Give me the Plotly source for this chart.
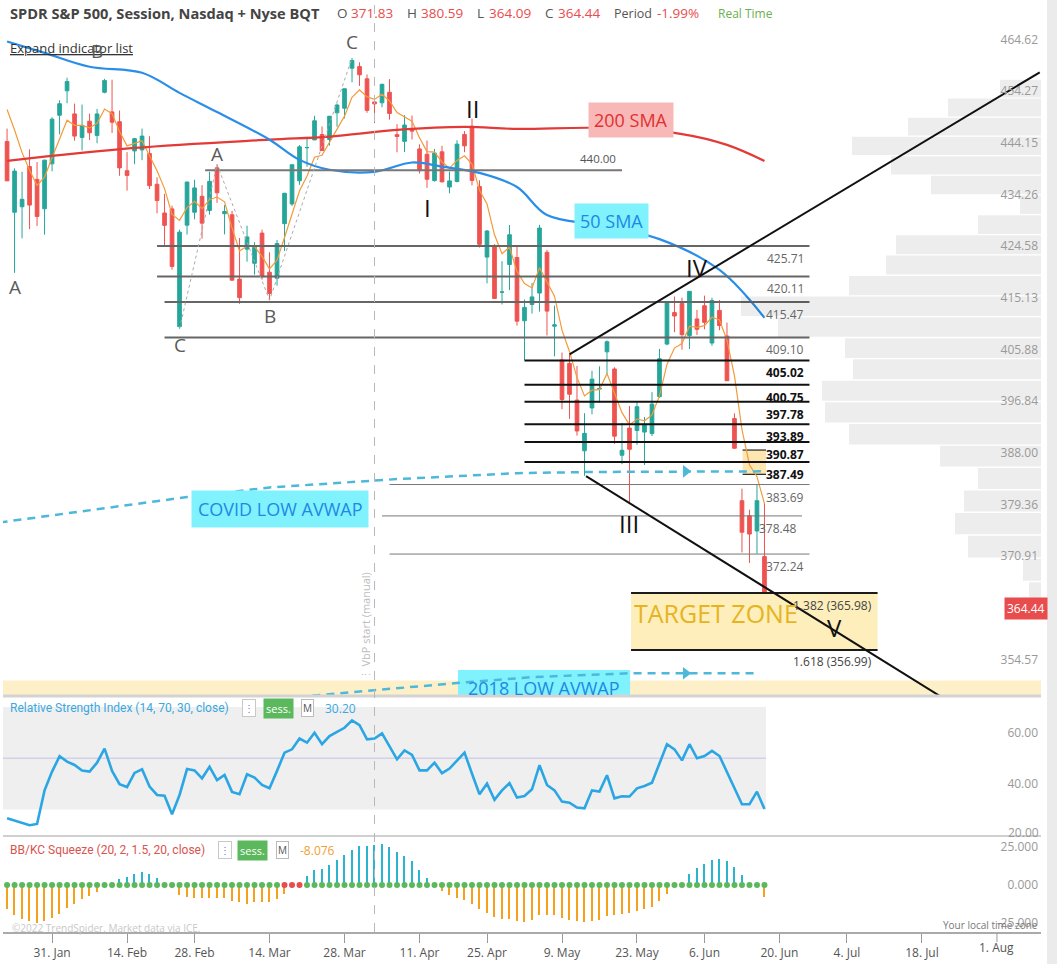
import math
import plotly.graph_objects as go

lg = math.log10

# ---------------- data ----------------
DATES = [
    "2022-01-21", "2022-01-24", "2022-01-25", "2022-01-26", "2022-01-27", "2022-01-28",
    "2022-01-31", "2022-02-01", "2022-02-02", "2022-02-03", "2022-02-04",
    "2022-02-07", "2022-02-08", "2022-02-09", "2022-02-10", "2022-02-11",
    "2022-02-14", "2022-02-15", "2022-02-16", "2022-02-17", "2022-02-18",
    "2022-02-22", "2022-02-23", "2022-02-24", "2022-02-25",
    "2022-02-28", "2022-03-01", "2022-03-02", "2022-03-03", "2022-03-04",
    "2022-03-07", "2022-03-08", "2022-03-09", "2022-03-10", "2022-03-11",
    "2022-03-14", "2022-03-15", "2022-03-16", "2022-03-17", "2022-03-18",
    "2022-03-21", "2022-03-22", "2022-03-23", "2022-03-24", "2022-03-25",
    "2022-03-28", "2022-03-29", "2022-03-30", "2022-03-31", "2022-04-01",
    "2022-04-04", "2022-04-05", "2022-04-06", "2022-04-07", "2022-04-08",
    "2022-04-11", "2022-04-12", "2022-04-13", "2022-04-14",
    "2022-04-18", "2022-04-19", "2022-04-20", "2022-04-21", "2022-04-22",
    "2022-04-25", "2022-04-26", "2022-04-27", "2022-04-28", "2022-04-29",
    "2022-05-02", "2022-05-03", "2022-05-04", "2022-05-05", "2022-05-06",
    "2022-05-09", "2022-05-10", "2022-05-11", "2022-05-12", "2022-05-13",
    "2022-05-16", "2022-05-17", "2022-05-18", "2022-05-19", "2022-05-20",
    "2022-05-23", "2022-05-24", "2022-05-25", "2022-05-26", "2022-05-27",
    "2022-05-31", "2022-06-01", "2022-06-02", "2022-06-03",
    "2022-06-06", "2022-06-07", "2022-06-08", "2022-06-09", "2022-06-10",
    "2022-06-13", "2022-06-14", "2022-06-15", "2022-06-16",
]
OPEN = [
    445.56, 432.03, 433.06, 440.72, 438.26, 432.68,
    441.24, 450.68, 455.50, 450.95, 446.35,
    449.51, 446.73, 455.22, 451.34, 449.41,
    439.92, 443.73, 443.93, 443.22, 437.33,
    431.89, 432.66, 411.02, 429.61,
    432.03, 435.04, 432.37, 440.47, 431.75,
    431.55, 419.62, 425.14, 422.52, 428.12,
    420.89, 419.77, 429.89, 433.59, 438.00,
    444.34, 445.86, 446.91, 445.94, 451.16,
    452.06, 460.02, 460.34, 457.89, 453.31,
    453.13, 455.22, 446.89, 445.59, 447.97,
    444.11, 443.08, 438.03, 443.55,
    436.81, 437.86, 446.92, 448.54, 436.91,
    423.67, 425.83, 417.24, 422.29, 423.59,
    412.07, 415.01, 417.08, 424.55, 411.10,
    405.10, 404.49, 398.07, 389.37, 396.71,
    399.98, 406.53, 403.50, 388.62, 393.25,
    392.83, 392.56, 392.31, 398.67, 407.91,
    413.55, 415.17, 409.42, 412.40,
    414.78, 408.10, 413.93, 409.34, 394.88,
    381.00, 378.50, 376.00, 371.83,
]
HIGH = [
    448.06, 440.38, 439.72, 444.04, 441.59, 442.00,
    450.28, 453.63, 458.12, 452.97, 452.78,
    450.99, 451.92, 457.88, 457.71, 451.61,
    443.50, 446.28, 448.06, 446.57, 438.66,
    435.50, 433.26, 428.76, 437.84,
    438.20, 437.17, 439.72, 441.11, 433.37,
    432.30, 427.21, 429.51, 426.43, 428.77,
    424.55, 426.84, 435.68, 441.07, 444.86,
    446.46, 450.58, 448.49, 450.50, 452.98,
    455.91, 462.07, 461.20, 458.76, 453.46,
    456.91, 457.83, 448.93, 450.69, 450.63,
    445.00, 445.75, 444.11, 444.73,
    439.75, 445.80, 447.57, 450.01, 438.08,
    428.69, 426.04, 422.92, 429.64, 425.87,
    415.92, 418.93, 429.66, 425.00, 414.80,
    406.41, 406.08, 404.04, 395.80, 403.18,
    403.97, 408.57, 403.80, 394.14, 397.03,
    397.73, 395.15, 399.45, 407.04, 415.38,
    416.46, 416.24, 417.44, 414.04,
    416.61, 416.22, 415.82, 411.74, 395.78,
    383.00, 379.50, 383.70, 380.59,
]
LOW = [
    437.95, 420.76, 427.15, 428.86, 429.45, 427.82,
    439.81, 446.94, 453.05, 445.71, 443.83,
    445.85, 445.22, 455.01, 447.20, 438.94,
    436.12, 441.17, 441.94, 436.42, 431.82,
    425.86, 421.35, 410.64, 427.86,
    430.70, 427.11, 431.57, 433.80, 427.88,
    419.36, 415.12, 422.82, 420.44, 419.53,
    415.79, 418.42, 424.80, 433.19, 437.22,
    440.68, 445.86, 443.71, 444.76, 448.43,
    450.06, 457.18, 456.47, 451.16, 449.14,
    452.26, 449.82, 443.47, 443.53, 445.94,
    439.39, 436.65, 437.84, 437.68,
    435.61, 437.68, 443.48, 437.10, 425.44,
    418.84, 416.07, 415.01, 417.60, 411.21,
    405.02, 413.36, 413.71, 409.44, 405.73,
    396.50, 394.82, 391.96, 385.15, 395.61,
    397.60, 402.58, 390.55, 387.11, 380.54,
    390.38, 386.96, 391.89, 398.45, 407.70,
    410.03, 406.93, 407.04, 409.51,
    410.55, 407.61, 410.38, 401.44, 389.75,
    372.50, 370.80, 372.30, 364.09,
]
CLOSE = [
    437.98, 439.84, 434.47, 433.38, 431.24, 441.95,
    449.91, 452.95, 457.35, 446.60, 448.70,
    447.26, 450.94, 457.54, 449.32, 440.46,
    439.02, 446.10, 446.60, 437.06, 434.23,
    429.57, 421.95, 428.30, 437.75,
    436.63, 429.98, 437.89, 435.71, 432.17,
    419.43, 416.25, 427.41, 425.48, 420.07,
    417.00, 426.17, 435.62, 441.07, 444.52,
    444.39, 449.59, 443.80, 450.49, 452.69,
    455.91, 461.55, 458.70, 451.64, 452.92,
    456.80, 451.03, 446.52, 448.77, 447.57,
    439.92, 438.29, 443.31, 437.79,
    437.97, 445.04, 444.71, 438.06, 426.04,
    428.51, 416.10, 417.27, 427.81, 412.00,
    414.48, 416.38, 429.06, 413.81, 411.34,
    398.17, 399.09, 392.75, 392.34, 401.72,
    400.09, 408.32, 391.86, 389.46, 389.63,
    396.92, 393.89, 397.37, 405.31, 415.26,
    412.93, 409.59, 417.39, 410.54,
    411.79, 415.74, 411.22, 401.44, 389.80,
    375.80, 375.50, 381.00, 364.44,
]
EMA_FAST = [
    451.8, 447.8, 443.4, 440.0, 437.1, 438.7, 442.4, 445.9, 449.7, 448.7,
    448.7, 448.2, 449.1, 451.9, 451.0, 447.5, 444.7, 445.2, 445.7, 442.8,
    439.9, 436.5, 431.6, 430.5, 432.9, 434.1, 432.7, 434.4, 434.9, 434.0,
    429.1, 424.8, 425.7, 425.6, 423.8, 421.5, 423.1, 427.3, 431.9, 436.1,
    438.9, 442.5, 442.9, 445.4, 447.8, 450.5, 454.2, 455.7, 454.3, 453.8,
    454.8, 453.5, 451.2, 450.4, 449.5, 446.3, 443.6, 443.5, 441.6, 440.4,
    441.9, 442.8, 441.2, 436.2, 433.6, 427.8, 424.3, 425.5, 421.0, 418.8,
    418.0, 421.7, 419.1, 416.5, 410.4, 406.6, 402.0, 398.8, 399.8, 399.9,
    402.7, 399.1, 395.9, 393.8, 394.8, 394.5, 395.5, 398.8, 404.3, 407.2,
    408.0, 411.1, 410.9, 411.2, 412.7, 412.2, 408.6, 402.3, 393.0, 387.0,
    385.0, 380.5,
]
RSI = [
    26.6, 25.7, 24.8, 23.9, 24.4, 37.5, 44.8, 50.8, 48.7, 47.4,
    45.2, 44.8, 48.3, 53.8, 45.1, 39.9, 38.8, 44.3, 45.7, 39.0,
    35.7, 35.4, 28.2, 35.7, 45.8, 45.3, 42.2, 46.7, 41.5, 43.5,
    36.9, 36.0, 43.8, 42.5, 39.6, 38.3, 45.1, 52.2, 53.5, 57.7,
    56.1, 60.0, 55.5, 58.7, 60.3, 61.9, 64.8, 62.9, 57.4, 57.7,
    59.7, 54.8, 49.6, 53.1, 51.3, 45.3, 45.3, 48.3, 44.2, 46.0,
    49.2, 52.2, 44.0, 36.0, 40.1, 33.8, 37.5, 40.3, 34.7, 35.3,
    37.9, 47.3, 39.6, 37.5, 33.1, 32.7, 30.8, 30.5, 37.5, 37.0,
    43.4, 34.4, 35.2, 35.1, 38.3, 39.2, 40.5, 47.9, 55.5, 53.5,
    49.2, 55.5, 50.0, 50.9, 52.9, 50.9, 44.4, 38.3, 32.1, 32.1,
    37.0, 30.2,
]
SQUEEZE = [
    -15.8, -19.3, -21.9, -23.7, -24.6, -23.7, -21.5, -18.9, -14.7, -12.1,
    -9.2, -7.0, -4.4, 0.3, 0.5, 3.7, 5.0, 7.2, 8.8, 7.0,
    4.8, 0.5, -2.2, -6.6, -7.7, -8.3, -8.3, -8.3, -8.3, -8.8,
    -10.3, -11.0, -12.1, -11.0, -11.0, -11.4, -9.2, -6.1, 0.3, 0.5,
    5.9, 9.9, 10.5, 13.2, 16.4, 19.7, 23.0, 25.2, 25.7, 26.3,
    26.5, 24.6, 21.3, 19.1, 15.8, 9.9, 4.8, 0.5, -3.7, -6.6,
    -8.8, -9.9, -12.1, -16.0, -18.2, -20.8, -21.9, -22.4, -23.7, -24.1,
    -23.0, -19.7, -19.3, -19.3, -21.5, -23.0, -23.7, -24.1, -23.7, -23.0,
    -20.4, -19.7, -19.1, -18.0, -17.1, -15.8, -14.3, -10.5, -5.9, -1.5,
    0.3, 7.0, 11.0, 13.6, 16.4, 17.1, 15.8, 11.8, 6.6, 0.3,
    0.3, -8.076,
]
SQUEEZE_ON_DATES = ["2022-03-16", "2022-03-17", "2022-03-18"]

SMA50_DATES = ["2022-01-21", "2022-01-28", "2022-02-07", "2022-02-16", "2022-02-24", "2022-03-03",
               "2022-03-14", "2022-03-18", "2022-03-24", "2022-04-01", "2022-04-08", "2022-04-14",
               "2022-04-22", "2022-04-29", "2022-05-05", "2022-05-16", "2022-05-26", "2022-06-08",
               "2022-06-16"]
SMA50 = [465.4, 463.1, 460.3, 459.1, 455.1, 451.3, 445.9, 442.0, 440.1, 439.7, 441.5, 440.7,
         439.5, 436.8, 431.5, 429.6, 427.0, 421.3, 412.6]
SMA200_DATES = ["2022-01-21", "2022-02-15", "2022-03-14", "2022-03-24", "2022-04-06", "2022-04-20",
                "2022-04-29", "2022-05-16", "2022-06-01", "2022-06-09", "2022-06-16"]
SMA200 = [441.8, 444.3, 445.9, 446.5, 447.8, 448.4, 448.0, 448.2, 447.0, 444.9, 441.8]

COVID_AVWAP_DATES = ["2022-01-20", "2022-02-08", "2022-02-25", "2022-03-14", "2022-03-25", "2022-04-01",
                     "2022-04-06", "2022-04-19", "2022-04-29", "2022-05-13", "2022-06-16"]
COVID_AVWAP = [377.4, 379.6, 381.6, 383.2, 384.0, 384.4, 384.6, 385.1, 385.6, 385.8, 385.9]
AVWAP2018_DATES = ["2022-03-16", "2022-03-23", "2022-04-01", "2022-04-19", "2022-05-03", "2022-05-20", "2022-06-15"]
AVWAP2018 = [349.6, 350.1, 350.9, 351.9, 352.8, 353.4, 353.4]

# volume-by-price (bins from 364.08, width 3.75), bottom -> top, relative volume
VP_BIN_LOW = [364.08, 367.83, 371.58, 375.33, 379.08, 382.83, 386.58, 390.33, 394.08, 397.83,
              401.58, 405.33, 409.08, 412.83, 416.58, 420.33, 424.08, 427.83, 431.58, 435.33,
              439.08, 442.83, 446.58, 450.33, 454.08]
VP_BIN_SIZE = 3.75
VP_VOLUME = [12, 18, 73, 86, 77, 63, 101, 192, 216, 219, 188, 196, 263, 300, 192, 155, 145,
             63, 21, 110, 150, 189, 133, 93, 41]

LEVEL_440 = 440.00
LEVELS_GREY = [425.71, 420.11, 415.47, 409.10]
LEVELS_GREY_START = ["2022-02-18", "2022-02-18", "2022-02-22", "2022-02-22"]
LEVELS_BLACK = [405.02, 400.75, 397.78, 393.89, 390.87, 387.49]
LEVELS_BLACK_START = "2022-05-02"
LEVELS_THIN = [383.69, 378.48, 372.24]
LEVELS_THIN_START = ["2022-04-05", "2022-04-04", "2022-04-05"]
LEVELS_THIN_END = ["2022-06-27", "2022-06-24", "2022-06-27"]
LEVEL_END = "2022-06-27"

FIB_1382 = 365.98
FIB_1618 = 356.99
GAP_BOX = (385.4, 389.5)
BAND_LOW = (349.9, 352.3)

PRICE_TICKS = [464.62, 454.27, 444.15, 434.26, 424.58, 415.13, 405.88, 396.84, 388.00, 379.36, 370.91, 354.57]
LAST_PRICE = 364.44

X_TICKS = ["2022-01-31", "2022-02-14", "2022-02-28", "2022-03-14", "2022-03-28", "2022-04-11", "2022-04-25",
           "2022-05-09", "2022-05-23", "2022-06-06", "2022-06-20", "2022-07-04", "2022-07-18"]
X_TICK_TEXT = ["31. Jan", "14. Feb", "28. Feb", "14. Mar", "28. Mar", "11. Apr", "25. Apr",
               "9. May", "23. May", "6. Jun", "20. Jun", "4. Jul", "18. Jul"]
X_LAST_TICK, X_LAST_TICK_TEXT = "2022-08-01", "1. Aug"
HOLIDAYS = ["2022-02-21", "2022-04-15", "2022-05-30"]
JUNETEENTH_BREAK = "2022-06-20 00:00:01"
X_START = "2022-01-20 11:00"
X_END = "2022-08-08 21:00"

UPPER_TREND_X = ["2022-05-10", "2022-08-08 17:00"]
UPPER_TREND_Y = [406.08, 459.2]
LOWER_TREND_X = ["2022-05-12 05:00", "2022-07-25 02:00"]
LOWER_TREND_Y = [385.1, 348.0]
ABC_X = ["2022-02-24", "2022-03-03", "2022-03-14", "2022-03-29"]
ABC_Y = [410.64, 441.11, 415.79, 462.07]

# ---------------- figure ----------------
W, H = 1057, 964
ML, MR, MT, MB = 3, 16, 0, 32
PW, PH = W - ML - MR, H - MT - MB


def PX(x):
    return (x - ML) / PW


def PY(y):
    return (MT + PH - y) / PH


fig = go.Figure()

# volume profile (overlay axis, px-like volume units, 0 at right edge)
vx, vy = [], []
for lo, vol in zip(VP_BIN_LOW, VP_VOLUME):
    y0, y1 = lo + 0.12, lo + VP_BIN_SIZE - 0.12
    vx += [0, vol, vol, 0, 0, None]
    vy += [y0, y0, y1, y1, y0, None]
fig.add_trace(go.Scatter(x=vx, y=vy, xaxis="x2", yaxis="y", mode="lines", fill="toself",
                         fillcolor="rgba(0,0,0,0.07)", line=dict(width=0), hoverinfo="skip"))

# bottom yellow band
fig.add_trace(go.Scatter(x=[X_START, X_END, X_END, X_START, X_START],
                         y=[BAND_LOW[0], BAND_LOW[0], BAND_LOW[1], BAND_LOW[1], BAND_LOW[0]],
                         mode="lines", fill="toself", fillcolor="#fdf0c8", line=dict(width=0), hoverinfo="skip"))

# target zone
TZ_X0, TZ_X1 = "2022-05-20 05:00", "2022-07-08 02:00"
fig.add_trace(go.Scatter(x=[TZ_X0, TZ_X1, TZ_X1, TZ_X0, TZ_X0],
                         y=[FIB_1618, FIB_1618, FIB_1382, FIB_1382, FIB_1618],
                         mode="lines", fill="toself", fillcolor="#fdeebb", line=dict(width=0), hoverinfo="skip"))
for p in (FIB_1382, FIB_1618):
    fig.add_trace(go.Scatter(x=[TZ_X0, TZ_X1], y=[p, p], mode="lines",
                             line=dict(color="#1a1a1a", width=2), hoverinfo="skip"))

# small gap box
GB_X0, GB_X1 = "2022-06-13 02:00", "2022-06-16 05:00"
fig.add_trace(go.Scatter(x=[GB_X0, GB_X1, GB_X1, GB_X0, GB_X0],
                         y=[GAP_BOX[0], GAP_BOX[0], GAP_BOX[1], GAP_BOX[1], GAP_BOX[0]],
                         mode="lines", fill="toself", fillcolor="#fde6b0", line=dict(width=0), hoverinfo="skip"))
for p in GAP_BOX:
    fig.add_trace(go.Scatter(x=[GB_X0, GB_X1], y=[p, p], mode="lines",
                             line=dict(color="#222", width=1.2), hoverinfo="skip"))

# 2018 AVWAP label box (clipped by panel)
fig.add_trace(go.Scatter(x=["2022-04-19 03:00", "2022-05-20 02:00", "2022-05-20 02:00", "2022-04-19 03:00", "2022-04-19 03:00"],
                         y=[345, 345, 353.9, 353.9, 345], mode="lines", fill="toself",
                         fillcolor="#80f2fd", line=dict(width=0), hoverinfo="skip"))

# candles
fig.add_trace(go.Candlestick(
    x=DATES, open=OPEN, high=HIGH, low=LOW, close=CLOSE, xaxis="x", yaxis="y",
    increasing=dict(line=dict(color="#26a69a", width=1), fillcolor="#26a69a"),
    decreasing=dict(line=dict(color="#ef5350", width=1), fillcolor="#ef5350"),
    whiskerwidth=0, hoverinfo="skip"))

# fast EMA
fig.add_trace(go.Scatter(x=DATES, y=EMA_FAST, mode="lines", line=dict(color="#f39a3a", width=1.2), hoverinfo="skip"))

# moving averages
fig.add_trace(go.Scatter(x=SMA200_DATES, y=SMA200, mode="lines", line=dict(color="#e23a36", width=2.2, shape="spline"), hoverinfo="skip"))
fig.add_trace(go.Scatter(x=SMA50_DATES, y=SMA50, mode="lines", line=dict(color="#2a8ee8", width=2.2, shape="spline"), hoverinfo="skip"))

# horizontal levels
fig.add_trace(go.Scatter(x=["2022-03-01 10:00", "2022-05-19"], y=[LEVEL_440, LEVEL_440], mode="lines",
                         line=dict(color="#777", width=2), hoverinfo="skip"))
for p, s in zip(LEVELS_GREY, LEVELS_GREY_START):
    fig.add_trace(go.Scatter(x=[s, LEVEL_END], y=[p, p], mode="lines", line=dict(color="#666", width=2), hoverinfo="skip"))
for p in LEVELS_BLACK:
    fig.add_trace(go.Scatter(x=[LEVELS_BLACK_START, LEVEL_END], y=[p, p], mode="lines", line=dict(color="#111", width=2), hoverinfo="skip"))
for p, s, e in zip(LEVELS_THIN, LEVELS_THIN_START, LEVELS_THIN_END):
    fig.add_trace(go.Scatter(x=[s, e], y=[p, p], mode="lines", line=dict(color="#777", width=1), hoverinfo="skip"))

# AVWAPs
AV_COL = "#4db8d9"
fig.add_trace(go.Scatter(x=COVID_AVWAP_DATES, y=COVID_AVWAP, mode="lines",
                         line=dict(color=AV_COL, width=2.5, dash="8px,6px"), hoverinfo="skip"))
fig.add_trace(go.Scatter(x=AVWAP2018_DATES, y=AVWAP2018, mode="lines",
                         line=dict(color=AV_COL, width=2.5, dash="8px,6px"), hoverinfo="skip"))
fig.add_trace(go.Scatter(x=["2022-06-01 12:00", "2022-06-01 12:00"], y=[COVID_AVWAP[-1], AVWAP2018[-1]], mode="markers",
                         marker=dict(symbol="triangle-right", size=11, color=AV_COL), hoverinfo="skip"))

# trend lines
fig.add_trace(go.Scatter(x=UPPER_TREND_X, y=UPPER_TREND_Y, mode="lines", line=dict(color="#111", width=2), hoverinfo="skip"))
fig.add_trace(go.Scatter(x=LOWER_TREND_X, y=LOWER_TREND_Y, mode="lines", line=dict(color="#111", width=2), hoverinfo="skip"))
fig.add_trace(go.Scatter(x=ABC_X, y=ABC_Y, mode="lines", line=dict(color="#aaa", width=1, dash="dot"), hoverinfo="skip"))

# RSI
fig.add_trace(go.Scatter(x=DATES, y=RSI, xaxis="x", yaxis="y2", mode="lines",
                         line=dict(color="#2ba6e4", width=2.6), hoverinfo="skip"))

# squeeze
sq_colors = ["#2ab4d0" if v > 0 else "#f5a11c" for v in SQUEEZE]
fig.add_trace(go.Bar(x=DATES, y=SQUEEZE, xaxis="x", yaxis="y3", marker=dict(color=sq_colors, line=dict(width=0)),
                     width=0.22 * 86400000, hoverinfo="skip"))
dot_colors = ["#e84c4c" if d in SQUEEZE_ON_DATES else "#5cb85c" for d in DATES]
fig.add_trace(go.Scatter(x=DATES, y=[0] * len(DATES), xaxis="x", yaxis="y3", mode="markers",
                         marker=dict(color=dot_colors, size=6), hoverinfo="skip"))

# ---------------- shapes ----------------
D_MAIN = (PH - 696 + MT) / PH
D_RSI = (PH - 836 + MT) / PH
shapes = [
    dict(type="rect", xref="x", yref="y2", x0=X_START, x1="2022-06-16 05:00", y0=30, y1=70,
         fillcolor="#efefef", line=dict(width=0), layer="below"),
    dict(type="line", xref="x", yref="y2", x0=X_START, x1="2022-06-16 05:00", y0=50, y1=50,
         line=dict(color="#d4d0ea", width=1.5), layer="below"),
    dict(type="line", xref="paper", yref="paper", x0=0, x1=1, y0=D_MAIN, y1=D_MAIN,
         line=dict(color="#d3d3d3", width=3)),
    dict(type="line", xref="paper", yref="paper", x0=0, x1=1, y0=D_RSI, y1=D_RSI,
         line=dict(color="#cfcfcf", width=2)),
    dict(type="line", xref="x", yref="paper", x0="2022-04-01", x1="2022-04-01", y0=0, y1=1,
         line=dict(color="#b8b8b8", width=1, dash="dash")),
    dict(type="rect", xref="paper", yref="paper", x0=PX(1047), x1=PX(1060), y0=-0.05, y1=1.0,
         fillcolor="#ebebeb", line=dict(width=0)),
    # last x tick mark
    dict(type="line", xref="x", yref="paper", x0=X_LAST_TICK, x1=X_LAST_TICK, y0=PY(933), y1=PY(942),
         line=dict(color="#999", width=1)),
]

# ---------------- annotations ----------------
ann = []


def note(text, x, y, size=12, color="#555", xanchor="center", yanchor="middle", xref="x", yref="y",
         xshift=0, yshift=0, family="Open Sans", **kw):
    ann.append(dict(text=text, x=x, y=y, xref=xref, yref=yref, showarrow=False, xanchor=xanchor,
                    yanchor=yanchor, xshift=xshift, yshift=yshift,
                    font=dict(size=size, color=color, family=family), **kw))


# header
note("<b>SPDR S&amp;P 500, Session, Nasdaq + Nyse BQT</b>", PX(8), PY(13), size=14.6, color="#444",
     xanchor="left", xref="paper", yref="paper")
for txt, x, col, sz in [("O", 335, "#555", 13.5), ("371.83", 349, "#e84c4c", 13.5), ("H", 405, "#555", 13.5),
                        ("380.59", 419, "#e84c4c", 13.5), ("L", 475, "#555", 13.5), ("364.09", 487, "#e84c4c", 13.5),
                        ("C", 543, "#555", 13.5), ("364.44", 556, "#e84c4c", 13.5), ("Period", 612, "#555", 12.5),
                        ("-1.99%", 655, "#e84c4c", 13.5), ("Real Time", 716, "#6ab04c", 12)]:
    note(txt, PX(x), PY(13), size=sz, color=col, xanchor="left", xref="paper", yref="paper")
note("<u>Expand indicator list</u>", PX(8), PY(48), size=13, color="#333", xanchor="left", xref="paper", yref="paper")

# wave labels
GREY_W = "#5a5a5a"
for txt, x, p, col, sz in [
    ("A", "2022-01-24", 418.2, GREY_W, 19), ("B", "2022-02-08", 463.4, GREY_W, 19),
    ("C", "2022-03-29", 465.3, GREY_W, 19), ("A", "2022-03-03", 443.1, GREY_W, 19),
    ("B", "2022-03-14", 413.0, GREY_W, 19), ("C", "2022-02-24", 407.8, GREY_W, 19),
    ("I", "2022-04-12", 433.0, "#111", 24), ("II", "2022-04-21", 452.1, "#111", 24),
    ("III", "2022-05-20", 377.3, "#111", 24), ("IV", "2022-06-03", 421.7, "#111", 24),
    ("V", "2022-06-30 07:00", 360.5, "#111", 24)]:
    note(txt, x, lg(p), size=sz, color=col)

# indicator label boxes
note("200 SMA", "2022-05-20 06:00", lg(449.8), size=18, color="#e0302f", bgcolor="#f9b8b8", borderpad=5)
note("50 SMA", "2022-05-17 14:00", lg(430.3), size=18, color="#1e88e5", bgcolor="#80f2fd", borderpad=5)
note("COVID LOW AVWAP", "2022-03-15 10:00", lg(379.6), size=18, color="#1e88e5", bgcolor="#80f2fd", borderpad=6)
note("2018 LOW AVWAP", "2022-05-04 14:00", lg(351.2), size=18, color="#1e88e5")

# level labels
note(f"{LEVEL_440:.2f}", "2022-05-19", lg(LEVEL_440), size=11.5, color="#555", xanchor="right",
     yanchor="bottom", xshift=-4, yshift=2)
for p in LEVELS_GREY:
    note(f"{p:.2f}", LEVEL_END, lg(p), size=12, color="#666", xanchor="right", yanchor="top", xshift=-3, yshift=-2)
for p in LEVELS_BLACK:
    note(f"<b>{p:.2f}</b>", LEVEL_END, lg(p), size=12, color="#111", xanchor="right", yanchor="top", xshift=-3, yshift=-2)
for p, e in zip(LEVELS_THIN, LEVELS_THIN_END):
    note(f"{p:.2f}", e, lg(p), size=12, color="#666", xanchor="right", yanchor="top", xshift=-3, yshift=-2)

note("TARGET ZONE", TZ_X0, lg(362.8), size=25, color="#e6b420", xanchor="left", xshift=1)
note(f"1.382 ({FIB_1382:.2f})", TZ_X1, lg(FIB_1382), size=12, color="#444", xanchor="right", yanchor="top", xshift=-4, yshift=-2)
note(f"1.618 ({FIB_1618:.2f})", TZ_X1, lg(FIB_1618), size=12, color="#444", xanchor="right", yanchor="top", xshift=-4, yshift=-1)

note("⋮ VbP start (manual)", "2022-04-01", lg(360.6), size=11, color="#bdbdbd", textangle=-90, xshift=-9)

# current price tag
ann.append(dict(text=f"{LAST_PRICE:.2f}", x=PX(1048), y=lg(LAST_PRICE), xref="paper", yref="y", showarrow=False,
                xanchor="right", yanchor="middle", yshift=-6, bgcolor="#e84c4c", borderpad=2,
                font=dict(size=12, color="white", family="Open Sans")))

# indicator legends
RSI_Y = PY(708)
note("Relative Strength Index (14, 70, 30, close)", PX(8), RSI_Y, size=12, color="#3aa8e0",
     xanchor="left", xref="paper", yref="paper", family="Roboto")
note("⋮", PX(249), RSI_Y, size=10, color="#7b6fd6", xref="paper", yref="paper", bordercolor="#c8c8c8",
     borderwidth=1, borderpad=1, bgcolor="white")
note("sess.", PX(278), RSI_Y, size=11, color="white", xref="paper", yref="paper", bgcolor="#5cb85c", borderpad=2)
note("M", PX(307.5), RSI_Y, size=10, color="#555", xref="paper", yref="paper", bordercolor="#bbb",
     borderwidth=1, borderpad=1, bgcolor="white")
note("30.20", PX(323), RSI_Y, size=12, color="#3aa8e0", xanchor="left", xref="paper", yref="paper")

SQ_Y = PY(850)
note("BB/KC Squeeze (20, 2, 1.5, 20, close)", PX(8), SQ_Y, size=12, color="#d9534f",
     xanchor="left", xref="paper", yref="paper", family="Roboto")
note("⋮", PX(224.5), SQ_Y, size=10, color="#7b6fd6", xref="paper", yref="paper", bordercolor="#c8c8c8",
     borderwidth=1, borderpad=1, bgcolor="white")
note("sess.", PX(252), SQ_Y, size=11, color="white", xref="paper", yref="paper", bgcolor="#5cb85c", borderpad=2)
note("M", PX(282.5), SQ_Y, size=10, color="#555", xref="paper", yref="paper", bordercolor="#bbb",
     borderwidth=1, borderpad=1, bgcolor="white")
note("-8.076", PX(298), SQ_Y, size=12, color="#f0a030", xanchor="left", xref="paper", yref="paper")

note("20.00", PX(1041), PY(832), size=12, color="#999", xanchor="right", xref="paper", yref="paper")
note("©2022 TrendSpider. Market data via ICE.", PX(10), PY(928), size=10, color="#c8c8c8",
     xanchor="left", xref="paper", yref="paper")
note("Your local time zone", PX(1040), PY(925), size=10, color="#777", xanchor="right", xref="paper", yref="paper")
note(X_LAST_TICK_TEXT, X_LAST_TICK, PY(947), size=12, color="#555", yref="paper")

# ---------------- layout ----------------
fig.update_layout(
    width=W, height=H, autosize=False,
    margin=dict(l=ML, r=MR, t=MT, b=MB),
    paper_bgcolor="white", plot_bgcolor="white",
    showlegend=False, hovermode=False,
    font=dict(family="Open Sans", color="#555"),
    shapes=shapes, annotations=ann, bargap=0,
    xaxis=dict(domain=[0, 1], anchor="y3", type="date", range=[X_START, X_END],
               rangebreaks=[dict(bounds=["sat", "mon"]), dict(values=HOLIDAYS),
                            dict(values=[JUNETEENTH_BREAK], dvalue=86399000)],
               rangeslider=dict(visible=False), tickvals=X_TICKS, ticktext=X_TICK_TEXT,
               ticks="outside", ticklen=9, tickcolor="#999", showline=True, linecolor="#aaa", linewidth=2,
               showgrid=False, zeroline=False, tickfont=dict(size=12, color="#555")),
    xaxis2=dict(overlaying="x", anchor="y", range=[PW, 0], visible=False, domain=[0, 1]),
    yaxis=dict(domain=[D_MAIN, 1], type="log", range=[2.54396, 2.67568], anchor="x", side="right",
               tickvals=PRICE_TICKS, ticktext=[f"{v:.2f}" for v in PRICE_TICKS], ticklabelposition="inside",
               ticks="", showgrid=False, zeroline=False, showline=False, ticklabelshift=-6,
               tickfont=dict(size=12, color="#999")),
    yaxis2=dict(domain=[D_RSI, D_MAIN], range=[19.7, 74.3], anchor="x", side="right",
                tickvals=[40, 60], ticktext=["40.00", "60.00"], ticklabelposition="inside",
                ticks="", showgrid=False, zeroline=False, showline=False, tickfont=dict(size=12, color="#999")),
    yaxis3=dict(domain=[0, D_RSI], range=[-30.7, 32], anchor="x", side="right",
                tickvals=[-25, 0, 25], ticktext=["-25.000", "0.000", "25.000"], ticklabelposition="inside",
                ticks="", showgrid=False, zeroline=False, showline=False, tickfont=dict(size=12, color="#999")),
)

fig.write_html("out.html", config={"displayModeBar": False},
               post_script="document.body.style.margin='0px';")
